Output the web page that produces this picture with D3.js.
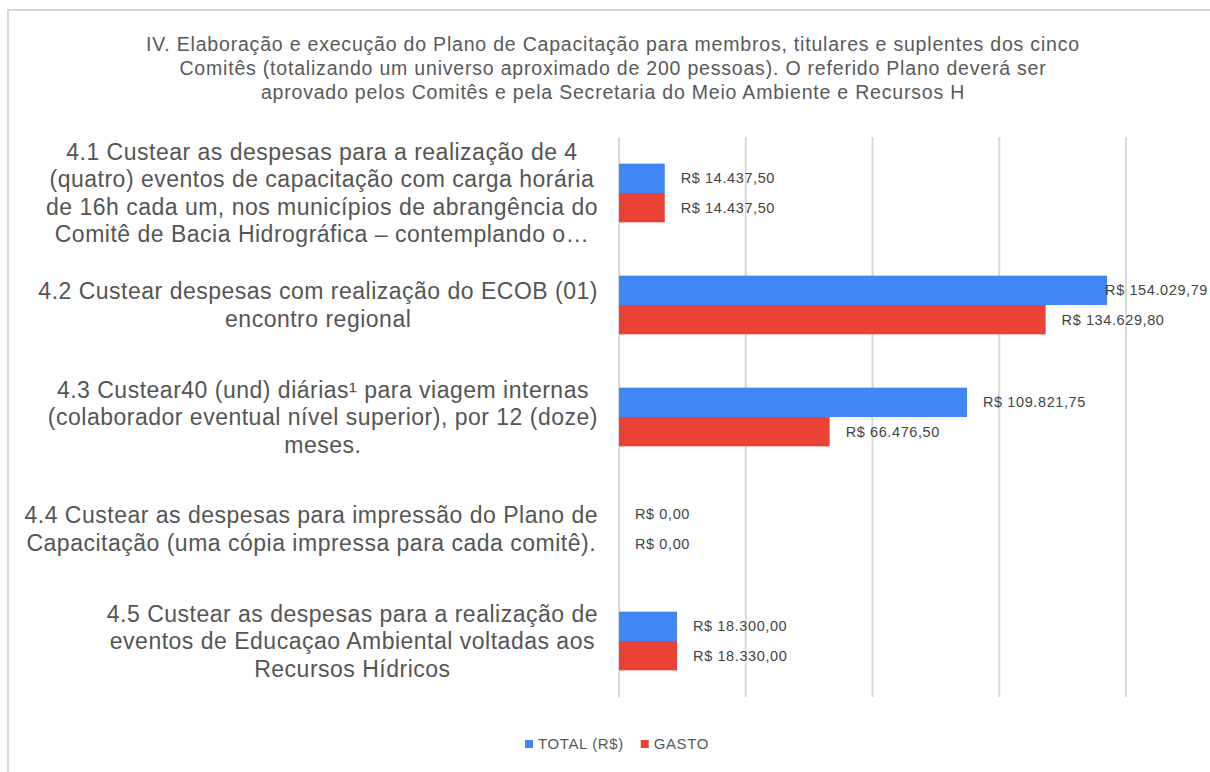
<!DOCTYPE html>
<html>
<head>
<meta charset="utf-8">
<script src="https://cdn.jsdelivr.net/npm/d3@7"></script>
<style>
  html, body { margin: 0; padding: 0; background: #fff; }
  svg { display: block; font-family: "Liberation Sans", Arial, sans-serif; }
</style>
</head>
<body>
<svg id="chart" width="1210" height="772"></svg>
<script>
// Chart title, one entry per line
const titleLines = [
  "IV. Elaboração e execução do Plano de Capacitação para membros, titulares e suplentes dos cinco",
  "Comitês (totalizando um universo aproximado de 200 pessoas). O referido Plano deverá ser",
  "aprovado pelos Comitês e pela Secretaria do Meio Ambiente e Recursos H"
];

// Category keys and their wrapped labels
const categories = ["4.1", "4.2", "4.3", "4.4", "4.5"];
const categoryLabels = [
  ["4.1 Custear as despesas para a realização de 4",
   "(quatro) eventos de capacitação com carga horária",
   "de 16h cada um, nos municípios de abrangência do",
   "Comitê de Bacia Hidrográfica – contemplando o…"],
  ["4.2 Custear despesas com realização do ECOB (01)",
   "encontro regional"],
  ["4.3 Custear40 (und) diárias¹ para viagem internas",
   "(colaborador eventual nível superior), por 12 (doze)",
   "meses."],
  ["4.4 Custear as despesas para impressão do Plano de",
   "Capacitação (uma cópia impressa para cada comitê)."],
  ["4.5 Custear as despesas para a realização de",
   "eventos de Educaçao Ambiental voltadas aos",
   "Recursos Hídricos"]
];

// Series
const seriesNames = ["TOTAL (R$)", "GASTO"];
const totalValues = [14437.50, 154029.79, 109821.75, 0, 18300.00];
const gastoValues = [14437.50, 134629.80, 66476.50, 0, 18330.00];

// Value axis gridlines
const xTicks = [0, 40000, 80000, 120000, 160000];

const colors = ["#4285F4", "#EA4335"];

const svg = d3.select("#chart");
const W = 1210, H = 772;

// outer frame
svg.append("rect")
  .attr("x", 8).attr("y", 10)
  .attr("width", W + 10).attr("height", H + 10)
  .attr("fill", "#fff")
  .attr("stroke", "#d9d9d9").attr("stroke-width", 2);

// title
svg.append("g")
  .selectAll("text")
  .data(titleLines)
  .join("text")
  .attr("x", 613)
  .attr("y", (d, i) => 51 + i * 24)
  .attr("text-anchor", "middle")
  .attr("font-size", 19.5)
  .attr("letter-spacing", 0.8)
  .attr("fill", "#595959")
  .text(d => d);

const plot = { left: 619, right: 1126, top: 137, bottom: 697 };

const x = d3.scaleLinear()
  .domain([0, 160000])
  .range([plot.left, plot.right]);

const y = d3.scaleBand()
  .domain(categories)
  .range([plot.top, plot.bottom])
  .paddingInner(0.476)
  .paddingOuter(0.238);

const ySub = d3.scaleBand()
  .domain(seriesNames)
  .range([0, y.bandwidth()]);

// gridlines
svg.append("g")
  .selectAll("line")
  .data(xTicks)
  .join("line")
  .attr("x1", d => x(d)).attr("x2", d => x(d))
  .attr("y1", plot.top).attr("y2", plot.bottom)
  .attr("stroke", "#d9d9d9")
  .attr("stroke-width", 2);

const rows = categories.map((c, i) => ({
  cat: c,
  values: [
    { name: seriesNames[0], value: totalValues[i], color: colors[0] },
    { name: seriesNames[1], value: gastoValues[i], color: colors[1] }
  ]
}));

const groups = svg.append("g")
  .selectAll("g")
  .data(rows)
  .join("g")
  .attr("transform", d => `translate(0,${y(d.cat)})`);

groups.selectAll("rect")
  .data(d => d.values)
  .join("rect")
  .attr("x", x(0))
  .attr("y", d => ySub(d.name))
  .attr("width", d => x(d.value) - x(0))
  .attr("height", ySub.bandwidth())
  .attr("fill", d => d.color);

const fmt = v => "R$ " + v.toLocaleString("pt-BR", { minimumFractionDigits: 2, maximumFractionDigits: 2 });

// value labels, kept inside the frame
groups.selectAll("text")
  .data(d => d.values)
  .join("text")
  .attr("y", d => ySub(d.name) + ySub.bandwidth() / 2)
  .attr("dy", "0.35em")
  .attr("font-size", 14.5)
  .attr("letter-spacing", 0.6)
  .attr("fill", "#444")
  .text(d => fmt(d.value))
  .each(function (d) {
    const w = this.getComputedTextLength();
    const px = Math.min(x(d.value) + 16, W - 2 - w);
    d3.select(this).attr("x", px);
  });

// category labels: lines centred within a block whose right edge sits by the axis
const lineH = 27.5;
const labelRight = 598;
svg.append("g")
  .selectAll("text")
  .data(rows.map((r, i) => ({ cat: r.cat, lines: categoryLabels[i] })))
  .join("text")
  .attr("text-anchor", "middle")
  .attr("font-size", 23)
  .attr("letter-spacing", 0.5)
  .attr("fill", "#555")
  .each(function (d) {
    const cy = y(d.cat) + y.bandwidth() / 2;
    const n = d.lines.length;
    const spans = d3.select(this).selectAll("tspan")
      .data(d.lines)
      .join("tspan")
      .attr("y", (l, j) => cy + (j - (n - 1) / 2) * lineH)
      .attr("dy", "0.35em")
      .text(l => l);
    let maxW = 0;
    spans.each(function () { maxW = Math.max(maxW, this.getComputedTextLength()); });
    spans.attr("x", labelRight - maxW / 2);
  });

// legend
const legend = svg.append("g");
let lx = 525;
seriesNames.forEach((name, i) => {
  legend.append("rect")
    .attr("x", lx).attr("y", 740)
    .attr("width", 8).attr("height", 8)
    .attr("fill", colors[i]);
  const t = legend.append("text")
    .attr("x", lx + 13).attr("y", 749)
    .attr("font-size", 15)
    .attr("letter-spacing", 0.6)
    .attr("fill", "#595959")
    .text(name);
  lx += 13 + t.node().getComputedTextLength() + 17;
});
</script>
</body>
</html>
